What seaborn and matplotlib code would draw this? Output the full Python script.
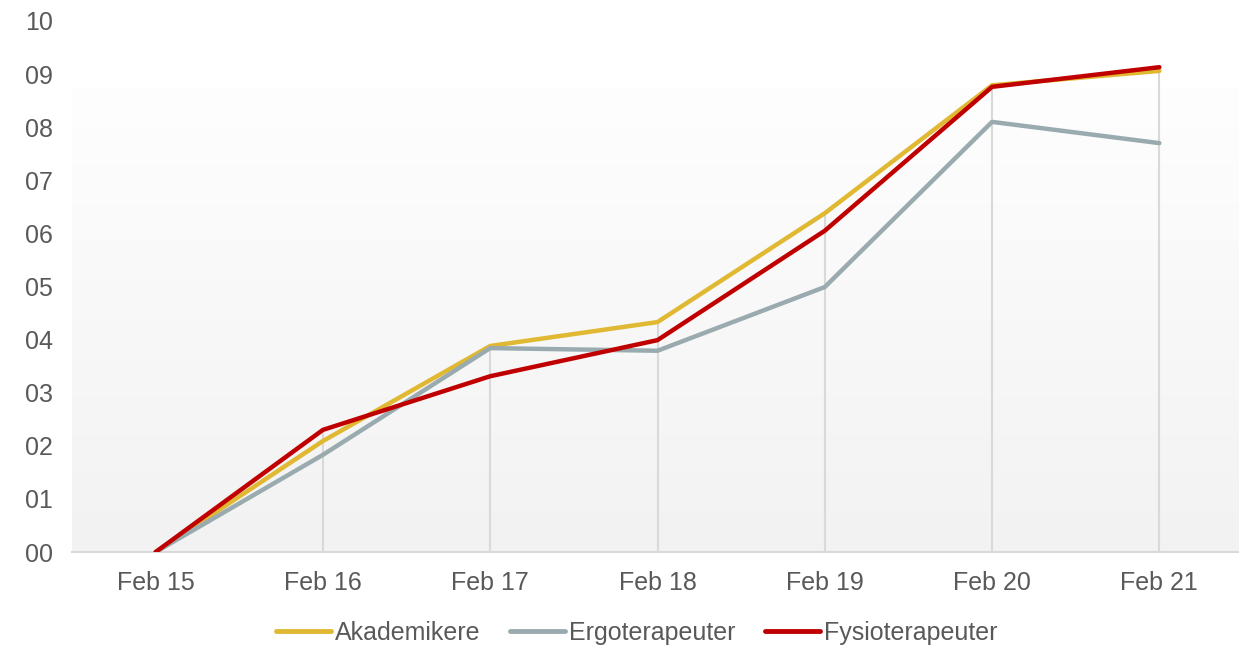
import matplotlib
matplotlib.use("Agg")
import matplotlib.pyplot as plt
import seaborn as sns
import numpy as np
import pandas as pd
from matplotlib.colors import LinearSegmentedColormap

dates = ["Feb 15", "Feb 16", "Feb 17", "Feb 18", "Feb 19", "Feb 20", "Feb 21"]
akademikere = [0.0, 2.09, 3.88, 4.33, 6.38, 8.79, 9.06]
ergoterapeuter = [0.0, 1.83, 3.84, 3.79, 4.99, 8.10, 7.70]
fysioterapeuter = [0.0, 2.30, 3.31, 3.99, 6.05, 8.76, 9.13]
series_names = ["Akademikere", "Ergoterapeuter", "Fysioterapeuter"]
colors = ["#E0B832", "#9AABB0", "#C00000"]

sns.set_style("white")
plt.rcParams['font.family'] = ['Liberation Sans', 'DejaVu Sans']
txt = "#595959"

df = pd.DataFrame({
    "dato": dates * 3,
    "verdi": akademikere + ergoterapeuter + fysioterapeuter,
    "gruppe": [n for n in series_names for _ in dates],
})

fig = plt.figure(figsize=(12.39, 6.46), dpi=100)
ax = fig.add_axes([72 / 1239, 1 - 552 / 646, (1243 - 72) / 1239, (552 - 21) / 646])

# gradient background
grad = np.linspace(0, 1, 256).reshape(-1, 1)
cmap = LinearSegmentedColormap.from_list("bg", ["#f2f2f2", "#fefefe"])
ax.imshow(grad, aspect="auto", cmap=cmap, origin="lower",
          extent=[-0.5, 6.5, 0, 8.74], zorder=0)

# drop lines
xs = np.arange(len(dates))
tops = np.max([akademikere, ergoterapeuter, fysioterapeuter], axis=0)
ax.vlines(xs, 0, tops, color="#d9d9d9", lw=1.5, zorder=1)

sns.lineplot(data=df, x="dato", y="verdi", hue="gruppe", palette=colors,
             linewidth=3.2, ax=ax, legend=False, zorder=3)

ax.set_xlim(-0.5, 6.5)
ax.set_ylim(0, 10)
ax.set_yticks(range(0, 11))
ax.set_yticklabels([f"{v:02d}" for v in range(0, 11)])
ax.set_xlabel("")
ax.set_ylabel("")
ax.tick_params(axis="both", length=0, labelsize=18, labelcolor=txt)
ax.tick_params(axis="y", pad=14)
ax.tick_params(axis="x", pad=14)
for s in ["top", "right", "left"]:
    ax.spines[s].set_visible(False)
ax.spines["bottom"].set_color("#d9d9d9")
ax.spines["bottom"].set_linewidth(1.5)
ax.set_facecolor("white")

handles = [plt.Line2D([], [], color=c, lw=3.5) for c in colors]
leg = fig.legend(handles, series_names, loc="center", bbox_to_anchor=(0.514, 1 - 633 / 646),
                 ncol=3, frameon=False, fontsize=18, handlelength=2.2,
                 handletextpad=0.15, columnspacing=1.2)
for t in leg.get_texts():
    t.set_color(txt)

fig.savefig("out.png", dpi=100)
